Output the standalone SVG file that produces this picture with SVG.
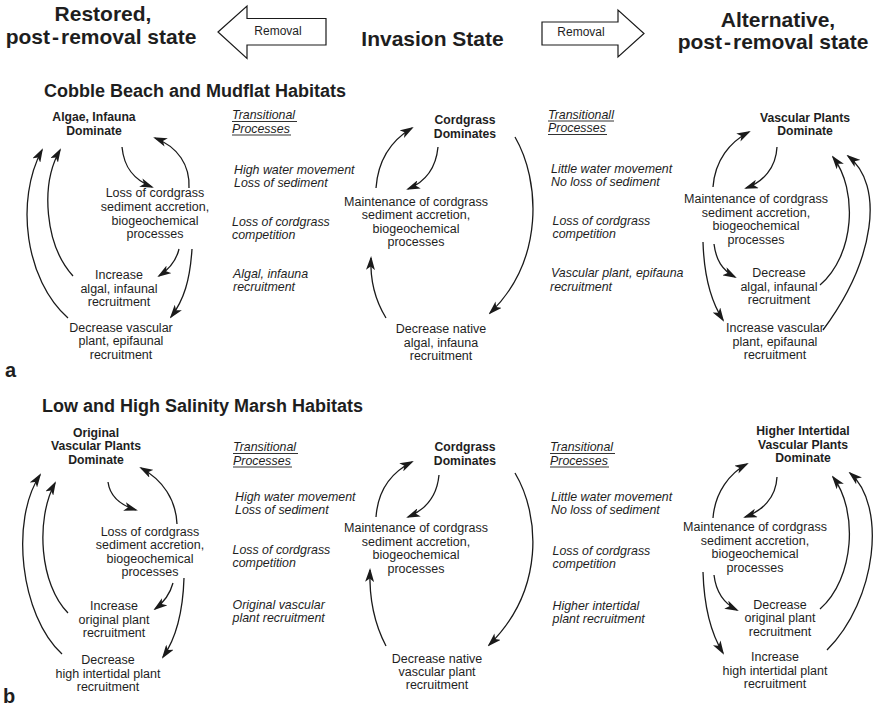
<svg xmlns="http://www.w3.org/2000/svg" width="877" height="706" viewBox="0 0 877 706">
  <defs>
    <marker id="head" viewBox="0 0 14 9" markerWidth="14" markerHeight="9" refX="12" refY="4.5" orient="auto" markerUnits="userSpaceOnUse">
      <path d="M0,0 L14,4.5 L0,9 L3.5,4.5 Z" fill="#1a1a1a"/>
    </marker>
    <style>
      text { font-family: "Liberation Sans", Arial, Helvetica, sans-serif; fill: #1e1e1e; }
      .title { font-size: 21px; font-weight: bold; text-anchor: middle; }
      .habitat { font-size: 18px; font-weight: bold; }
      .panel { font-size: 20px; font-weight: bold; }
      .state { font-size: 12.2px; font-weight: bold; text-anchor: middle; }
      .proc { font-size: 12.5px; text-anchor: middle; }
      .trans { font-size: 12.4px; font-style: italic; }
      .small { font-size: 12px; text-anchor: middle; }
      .block { fill: #ffffff; stroke: #1a1a1a; stroke-width: 1.2; }
      .ul { stroke: #333; stroke-width: 1; }
      .conn path { fill: none; stroke: #1a1a1a; stroke-width: 1.3; marker-end: url(#head); }
    </style>
  </defs>
  <rect width="877" height="706" fill="#ffffff"/>

  <!-- Header: states and removal arrows -->
  <g id="restored-state">
    <text class="title" x="103" y="21">Restored,</text>
    <text class="title" x="101" y="44">post<tspan dx="2">-</tspan><tspan dx="2">removal state</tspan></text>
  </g>
  <g id="removal-left">
    <polygon class="block" points="218,32 247,6 247,18.5 326,18.5 326,45 247,45 247,58.5"/>
    <text class="small" x="278" y="35">Removal</text>
  </g>
  <g id="invasion-state">
    <text class="title" x="432.5" y="45.5">Invasion State</text>
  </g>
  <g id="removal-right">
    <polygon class="block" points="542,22 618,22 618,10 644,33.5 618,57 618,45 542,45"/>
    <text class="small" x="581" y="36">Removal</text>
  </g>
  <g id="alternative-state">
    <text class="title" x="778" y="26.5">Alternative,</text>
    <text class="title" x="773" y="49">post<tspan dx="2">-</tspan><tspan dx="2">removal state</tspan></text>
  </g>

  <!-- Panel a -->
  <text class="habitat" x="44" y="97">Cobble Beach and Mudflat Habitats</text>
  <text class="panel" x="5" y="377">a</text>

  <g id="a-algae-dominate">
    <text class="state" x="94" y="121">Algae, Infauna</text>
    <text class="state" x="94" y="134.5">Dominate</text>
  </g>
  <g id="a-loss-cordgrass">
    <text class="proc" x="155" y="197">Loss of cordgrass</text>
    <text class="proc" x="155" y="211">sediment accretion,</text>
    <text class="proc" x="155" y="224.5">biogeochemical</text>
    <text class="proc" x="155" y="238">processes</text>
  </g>
  <g id="a-increase-algal">
    <text class="proc" x="119" y="279">Increase</text>
    <text class="proc" x="119" y="292.5">algal, infaunal</text>
    <text class="proc" x="119" y="306">recruitment</text>
  </g>
  <g id="a-decrease-vascular">
    <text class="proc" x="121" y="331.5">Decrease vascular</text>
    <text class="proc" x="121" y="345">plant, epifaunal</text>
    <text class="proc" x="121" y="358.5">recruitment</text>
  </g>

  <g id="a-transitional-left">
    <text class="trans" x="232" y="119">Transitional</text>
    <line class="ul" x1="232" y1="121.5" x2="297" y2="121.5"/>
    <text class="trans" x="232" y="132.5">Processes</text>
    <line class="ul" x1="232" y1="135" x2="291" y2="135"/>
    <text class="trans" x="234" y="174">High water movement</text>
    <text class="trans" x="234" y="187">Loss of sediment</text>
    <text class="trans" x="232" y="226">Loss of cordgrass</text>
    <text class="trans" x="232" y="239">competition</text>
    <text class="trans" x="233" y="278">Algal, infauna</text>
    <text class="trans" x="233" y="291">recruitment</text>
  </g>

  <g id="a-cordgrass-dominates">
    <text class="state" x="465" y="124">Cordgrass</text>
    <text class="state" x="465" y="137.5">Dominates</text>
  </g>
  <g id="a-maintenance-mid">
    <text class="proc" x="416" y="205.5">Maintenance of cordgrass</text>
    <text class="proc" x="416" y="219">sediment accretion,</text>
    <text class="proc" x="416" y="232.5">biogeochemical</text>
    <text class="proc" x="416" y="246">processes</text>
  </g>
  <g id="a-decrease-native">
    <text class="proc" x="441" y="333">Decrease native</text>
    <text class="proc" x="441" y="346.5">algal, infauna</text>
    <text class="proc" x="441" y="360">recruitment</text>
  </g>

  <g id="a-transitional-right">
    <text class="trans" x="548" y="118.5">Transitionall</text>
    <line class="ul" x1="548" y1="121" x2="614" y2="121"/>
    <text class="trans" x="548" y="132">Processes</text>
    <line class="ul" x1="548" y1="134.5" x2="607" y2="134.5"/>
    <text class="trans" x="551" y="173">Little water movement</text>
    <text class="trans" x="551" y="186">No loss of sediment</text>
    <text class="trans" x="552.5" y="225">Loss of cordgrass</text>
    <text class="trans" x="552.5" y="238">competition</text>
    <text class="trans" x="551" y="277">Vascular plant, epifauna</text>
    <text class="trans" x="550" y="290.5">recruitment</text>
  </g>

  <g id="a-vascular-dominate">
    <text class="state" x="805" y="121.5">Vascular Plants</text>
    <text class="state" x="805" y="135">Dominate</text>
  </g>
  <g id="a-maintenance-right">
    <text class="proc" x="756" y="203">Maintenance of cordgrass</text>
    <text class="proc" x="756" y="216.5">sediment accretion,</text>
    <text class="proc" x="756" y="230">biogeochemical</text>
    <text class="proc" x="756" y="243.5">processes</text>
  </g>
  <g id="a-decrease-algal">
    <text class="proc" x="779" y="277">Decrease</text>
    <text class="proc" x="779" y="290.5">algal, infaunal</text>
    <text class="proc" x="779" y="304">recruitment</text>
  </g>
  <g id="a-increase-vascular">
    <text class="proc" x="775" y="332">Increase vascular</text>
    <text class="proc" x="775" y="345.5">plant, epifaunal</text>
    <text class="proc" x="775" y="359">recruitment</text>
  </g>

  <!-- Panel b -->
  <text class="habitat" x="42" y="412">Low and High Salinity Marsh Habitats</text>
  <text class="panel" x="3" y="703">b</text>

  <g id="b-original-dominate">
    <text class="state" x="96" y="436.5">Original</text>
    <text class="state" x="96" y="450">Vascular Plants</text>
    <text class="state" x="96" y="463.5">Dominate</text>
  </g>
  <g id="b-loss-cordgrass">
    <text class="proc" x="150" y="535.5">Loss of cordgrass</text>
    <text class="proc" x="150" y="549">sediment accretion,</text>
    <text class="proc" x="150" y="562.5">biogeochemical</text>
    <text class="proc" x="150" y="576">processes</text>
  </g>
  <g id="b-increase-original">
    <text class="proc" x="114" y="610">Increase</text>
    <text class="proc" x="114" y="623.5">original plant</text>
    <text class="proc" x="114" y="637">recruitment</text>
  </g>
  <g id="b-decrease-high">
    <text class="proc" x="108" y="664">Decrease</text>
    <text class="proc" x="108" y="677.5">high intertidal plant</text>
    <text class="proc" x="108" y="691">recruitment</text>
  </g>

  <g id="b-transitional-left">
    <text class="trans" x="233" y="451">Transitional</text>
    <line class="ul" x1="233" y1="453.5" x2="298" y2="453.5"/>
    <text class="trans" x="233" y="464.5">Processes</text>
    <line class="ul" x1="233" y1="467" x2="292" y2="467"/>
    <text class="trans" x="235" y="501">High water movement</text>
    <text class="trans" x="235" y="514">Loss of sediment</text>
    <text class="trans" x="232.5" y="553.5">Loss of cordgrass</text>
    <text class="trans" x="232.5" y="566.5">competition</text>
    <text class="trans" x="232.5" y="608.5">Original vascular</text>
    <text class="trans" x="232.5" y="621.5">plant recruitment</text>
  </g>

  <g id="b-cordgrass-dominates">
    <text class="state" x="465" y="451">Cordgrass</text>
    <text class="state" x="465" y="465">Dominates</text>
  </g>
  <g id="b-maintenance-mid">
    <text class="proc" x="416" y="532">Maintenance of cordgrass</text>
    <text class="proc" x="416" y="545.5">sediment accretion,</text>
    <text class="proc" x="416" y="559">biogeochemical</text>
    <text class="proc" x="416" y="572.5">processes</text>
  </g>
  <g id="b-decrease-native">
    <text class="proc" x="437" y="662.5">Decrease native</text>
    <text class="proc" x="437" y="676">vascular plant</text>
    <text class="proc" x="437" y="689">recruitment</text>
  </g>

  <g id="b-transitional-right">
    <text class="trans" x="550" y="451">Transitional</text>
    <line class="ul" x1="550" y1="453.5" x2="615" y2="453.5"/>
    <text class="trans" x="550" y="464.5">Processes</text>
    <line class="ul" x1="550" y1="467" x2="609" y2="467"/>
    <text class="trans" x="551" y="500.5">Little water movement</text>
    <text class="trans" x="551" y="513.5">No loss of sediment</text>
    <text class="trans" x="552.5" y="555">Loss of cordgrass</text>
    <text class="trans" x="552.5" y="568">competition</text>
    <text class="trans" x="552.5" y="610">Higher intertidal</text>
    <text class="trans" x="552.5" y="623">plant recruitment</text>
  </g>

  <g id="b-higher-dominate">
    <text class="state" x="803" y="435">Higher Intertidal</text>
    <text class="state" x="803" y="448.5">Vascular Plants</text>
    <text class="state" x="803" y="462">Dominate</text>
  </g>
  <g id="b-maintenance-right">
    <text class="proc" x="755" y="531">Maintenance of cordgrass</text>
    <text class="proc" x="755" y="544.5">sediment accretion,</text>
    <text class="proc" x="755" y="558">biogeochemical</text>
    <text class="proc" x="755" y="571.5">processes</text>
  </g>
  <g id="b-decrease-original">
    <text class="proc" x="780" y="608.5">Decrease</text>
    <text class="proc" x="780" y="622">original plant</text>
    <text class="proc" x="780" y="635.5">recruitment</text>
  </g>
  <g id="b-increase-high">
    <text class="proc" x="775" y="661">Increase</text>
    <text class="proc" x="775" y="674.5">high intertidal plant</text>
    <text class="proc" x="775" y="688">recruitment</text>
  </g>

  <!-- Connectors -->
  <g id="connectors" class="conn">
    <!-- panel a, restored side -->
    <path d="M122,147 C124,168 134,180 152,187"/>
    <path d="M189,188 C190,165 178,147 155,138"/>
    <path d="M179,249 C176,262 168,270 159,276"/>
    <path d="M192,249 C190,280 184,300 171,317"/>
    <path d="M73,276 C45,245 40,185 60,150"/>
    <path d="M68,318 C25,280 15,200 42,150"/>
    <!-- panel a, invasion -->
    <path d="M386,318 C375,300 370,280 371,258"/>
    <path d="M376,188 C378,160 392,140 412,128"/>
    <path d="M438,147 C436,168 425,182 408,189"/>
    <path d="M515,137 C540,180 545,260 490,313"/>
    <!-- panel a, alternative side -->
    <path d="M713,187 C715,160 730,142 749,132"/>
    <path d="M777,147 C776,168 763,182 746,188"/>
    <path d="M703,242 C704,275 710,300 723,320"/>
    <path d="M714,244 C716,260 722,270 735,277"/>
    <path d="M820,285 C855,255 858,190 833,157"/>
    <path d="M823,330 C875,260 885,185 848,156"/>
    <!-- panel b, restored side -->
    <path d="M108,482 C110,497 120,505 136,510"/>
    <path d="M177,524 C176,500 163,480 141,468"/>
    <path d="M173,583 C170,594 163,603 155,609"/>
    <path d="M184,578 C183,610 177,637 163,657"/>
    <path d="M68,613 C40,585 35,520 55,483"/>
    <path d="M62,654 C20,615 10,520 40,475"/>
    <!-- panel b, invasion -->
    <path d="M386,646 C375,625 369,600 370,570"/>
    <path d="M376,517 C378,490 392,472 412,462"/>
    <path d="M439,475 C437,496 425,510 408,517"/>
    <path d="M515,473 C540,515 545,590 489,645"/>
    <!-- panel b, alternative side -->
    <path d="M713,518 C715,492 730,473 747,464"/>
    <path d="M777,477 C776,498 762,511 745,517"/>
    <path d="M703,572 C704,605 710,632 723,653"/>
    <path d="M714,575 C716,592 723,603 737,610"/>
    <path d="M820,609 C855,578 858,510 833,477"/>
    <path d="M827,650 C877,600 887,505 850,473"/>
  </g>
</svg>
